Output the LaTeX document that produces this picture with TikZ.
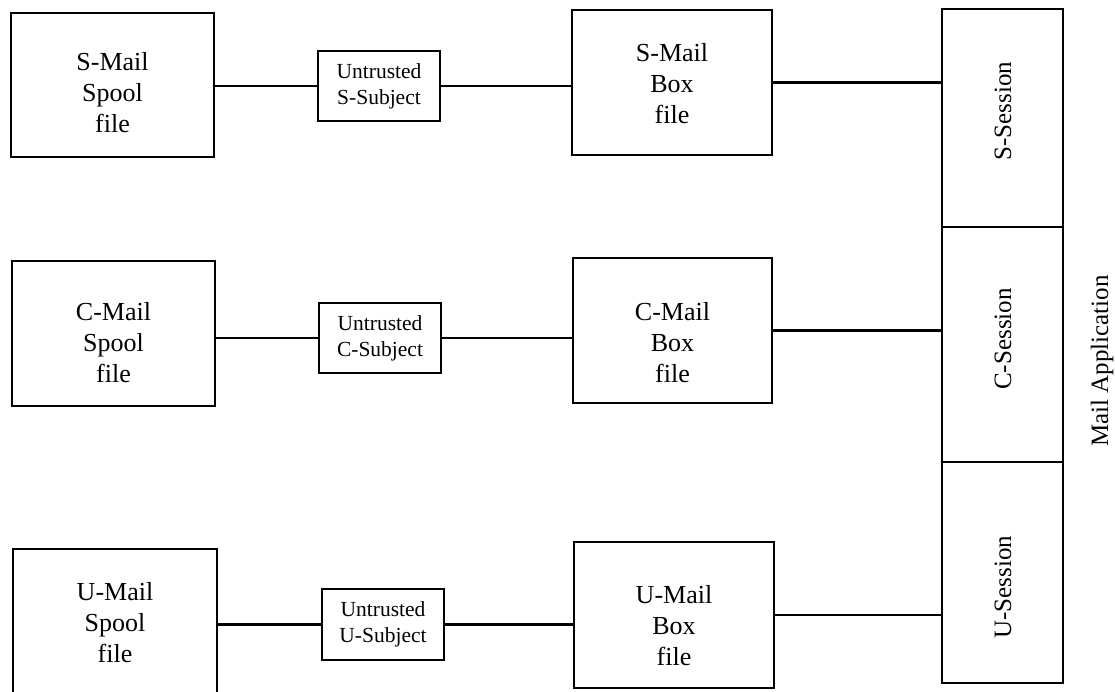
\documentclass[tikz,border=0pt]{standalone}
\usepackage{fontspec}
\setmainfont{Liberation Serif}
\begin{document}
\begin{tikzpicture}[x=1pt,y=-1pt,
  box/.style={draw, line width=2.5pt, inner sep=0pt},
  wire/.style={line width=2.2pt},
  bigtext/.style={align=center, inner sep=0pt, font=\fontsize{26}{31}\selectfont},
  smalltext/.style={align=center, inner sep=0pt, font=\fontsize{21.5}{26}\selectfont},
  sesstext/.style={rotate=90, inner sep=0pt, font=\fontsize{25}{30}\selectfont}]
\useasboundingbox (0,0) rectangle (1115,691);

% S row
\node[box, minimum width=203pt, minimum height=144pt] (sspool) at (112.5,85) {};
\node[bigtext] (sspoolt) at (112.5,93) {S-Mail\\Spool\\file};
\node[box, minimum width=122pt, minimum height=70pt] (sunt) at (379,86) {};
\node[smalltext] (suntt) at (379,86) {Untrusted\\S-Subject};
\node[box, minimum width=200pt, minimum height=145pt] (sbox) at (672,82.5) {};
\node[bigtext] (sboxt) at (672,84) {S-Mail\\Box\\file};

% C row
\node[box, minimum width=203pt, minimum height=145pt] (cspool) at (113.5,333.5) {};
\node[bigtext] (cspoolt) at (113.5,343) {C-Mail\\Spool\\file};
\node[box, minimum width=122pt, minimum height=70pt] (cunt) at (380,338) {};
\node[smalltext] (cuntt) at (380,338) {Untrusted\\C-Subject};
\node[box, minimum width=199pt, minimum height=145pt] (cbox) at (672.5,330.5) {};
\node[bigtext] (cboxt) at (672.5,343) {C-Mail\\Box\\file};

% U row
\node[box, minimum width=204pt, minimum height=171pt] (uspool) at (115,634.5) {};
\node[bigtext] (uspoolt) at (115,623) {U-Mail\\Spool\\file};
\node[box, minimum width=122pt, minimum height=71pt] (uunt) at (383,624.5) {};
\node[smalltext] (uuntt) at (383,624.5) {Untrusted\\U-Subject};
\node[box, minimum width=200pt, minimum height=146pt] (ubox) at (674,615) {};
\node[bigtext] (uboxt) at (674,626) {U-Mail\\Box\\file};

% Session column
\node[box, minimum width=121pt, minimum height=218pt] (ssess) at (1002.5,118) {};
\node[box, minimum width=121pt, minimum height=235pt] (csess) at (1002.5,344.5) {};
\node[box, minimum width=121pt, minimum height=221pt] (usess) at (1002.5,572.5) {};
\node[sesstext] (ssesst) at (1003,111) {S-Session};
\node[sesstext] (csesst) at (1003,339) {C-Session};
\node[sesstext] (usesst) at (1003,587) {U-Session};
\node[sesstext] (mailapp) at (1102,361) {Mail Application};

% connectors
\draw[wire] (sspool.east |- sunt.west) -- (sunt.west);
\draw[wire] (sunt.east) -- (sunt.east -| sbox.west);
\draw[wire] (sbox.east) -- (sbox.east -| ssess.west);

\draw[wire] (cspool.east |- cunt.west) -- (cunt.west);
\draw[wire] (cunt.east) -- (cunt.east -| cbox.west);
\draw[wire] (cbox.east) -- (cbox.east -| csess.west);

\draw[wire] (uspool.east |- uunt.west) -- (uunt.west);
\draw[wire] (uunt.east) -- (uunt.east -| ubox.west);
\draw[wire] (ubox.east) -- (ubox.east -| usess.west);
\end{tikzpicture}
\end{document}
